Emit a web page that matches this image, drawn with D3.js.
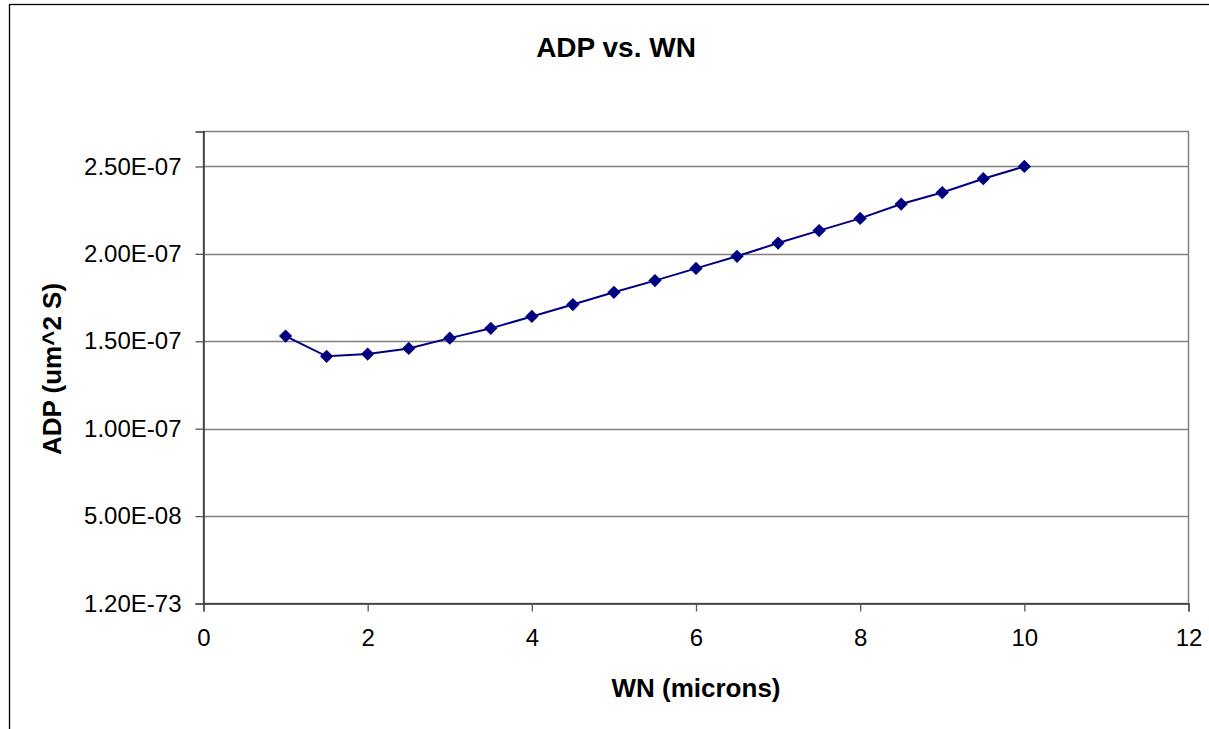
<!DOCTYPE html>
<html>
<head>
<meta charset="utf-8">
<script src="https://cdn.jsdelivr.net/npm/d3@7"></script>
<style>
    body { margin: 0; background: #fff; }
    svg { display: block; font-family: Arial, "Liberation Sans", sans-serif; }
</style>
</head>
<body>
<svg id="chart" width="1209" height="729"></svg>
<script>
// Data
const wn = [1, 1.5, 2, 2.5, 3, 3.5, 4, 4.5, 5, 5.5, 6, 6.5, 7, 7.5, 8, 8.5, 9, 9.5, 10];
const adp = [1.530e-7, 1.414e-7, 1.427e-7, 1.459e-7, 1.518e-7, 1.574e-7, 1.642e-7, 1.710e-7, 1.780e-7,
    1.847e-7, 1.917e-7, 1.986e-7, 2.062e-7, 2.133e-7, 2.203e-7, 2.285e-7, 2.351e-7, 2.430e-7, 2.500e-7];
const xTicks = [0, 2, 4, 6, 8, 10, 12];
const yTicks = [0, 5e-8, 1e-7, 1.5e-7, 2e-7, 2.5e-7];
const yTickLabels = ["1.20E-73", "5.00E-08", "1.00E-07", "1.50E-07", "2.00E-07", "2.50E-07"];

let svg = d3.select('#chart');

// outer chart frame (runs off the right and bottom of the picture)
svg.append('rect')
    .attr('x', 9.5).attr('y', 4.5)
    .attr('width', 1240).attr('height', 780)
    .style('fill', 'none')
    .style('stroke', '#000')
    .style('stroke-width', 1.3);

let plotL = 203.5, plotR = 1188.5, plotT = 131.5, plotB = 603.5;

let x = d3.scaleLinear().domain([0, 12]).range([plotL, plotR]);
let y = d3.scaleLinear().domain([0, 2.7e-7]).range([plotB, plotT]);

// plot area + gridlines
svg.append('rect')
    .attr('x', plotL).attr('y', plotT)
    .attr('width', plotR - plotL).attr('height', plotB - plotT)
    .style('fill', '#fff')
    .style('stroke', '#808080')
    .style('stroke-width', 1.5);

svg.append('g')
    .selectAll('line')
    .data(yTicks.slice(1))
    .join('line')
        .attr('x1', plotL).attr('x2', plotR)
        .attr('y1', d => Math.round(y(d)) + 0.5)
        .attr('y2', d => Math.round(y(d)) + 0.5)
        .style('stroke', '#808080')
        .style('stroke-width', 1.5);

// axes
let xAxis = d3.axisBottom(x)
    .tickValues(xTicks)
    .tickSize(8)
    .tickPadding(12)
    .tickFormat(d3.format('d'));
let horAxis = svg.append('g')
    .attr('transform', `translate(0,${plotB})`)
    .call(xAxis);

let yAxis = d3.axisLeft(y)
    .tickValues(yTicks)
    .tickSize(8)
    .tickPadding(14)
    .tickFormat((d, i) => yTickLabels[i]);
let vertAxis = svg.append('g')
    .attr('transform', `translate(${plotL},0)`)
    .call(yAxis);

[horAxis, vertAxis].forEach(a => {
    a.select('.domain').style('stroke', '#333').style('stroke-width', 1.5);
    a.selectAll('.tick line').style('stroke', '#555').style('stroke-width', 1.3);
    a.selectAll('.tick text')
        .style('font-family', 'Arial, "Liberation Sans", sans-serif')
        .style('font-size', '24px')
        .style('fill', '#000');
});
horAxis.selectAll('.tick text').attr('dy', '0.95em');

// series line + diamond markers
let line = d3.line()
    .x((d, i) => x(wn[i]))
    .y(d => y(d));

svg.append('path')
    .datum(adp)
    .attr('d', line)
    .style('fill', 'none')
    .style('stroke', '#000080')
    .style('stroke-width', 2);

// Excel diamonds are squares turned 45 degrees
svg.append('g')
    .selectAll('path')
    .data(adp)
    .join('path')
        .attr('transform', (d, i) => `translate(${x(wn[i])},${y(d)}) rotate(45)`)
        .attr('d', d3.symbol(d3.symbolSquare, 88))
        .style('fill', '#000080');

// titles
svg.append('text')
    .attr('x', 616).attr('y', 57)
    .attr('text-anchor', 'middle')
    .style('font-weight', 'bold')
    .style('font-size', '28px')
    .text('ADP vs. WN');

svg.append('text')
    .attr('x', 696).attr('y', 697)
    .attr('text-anchor', 'middle')
    .style('font-weight', 'bold')
    .style('font-size', '26px')
    .text('WN (microns)');

svg.append('text')
    .attr('transform', 'translate(61,369) rotate(-90)')
    .attr('text-anchor', 'middle')
    .style('font-weight', 'bold')
    .style('font-size', '26px')
    .text('ADP (um^2 S)');
</script>
</body>
</html>
